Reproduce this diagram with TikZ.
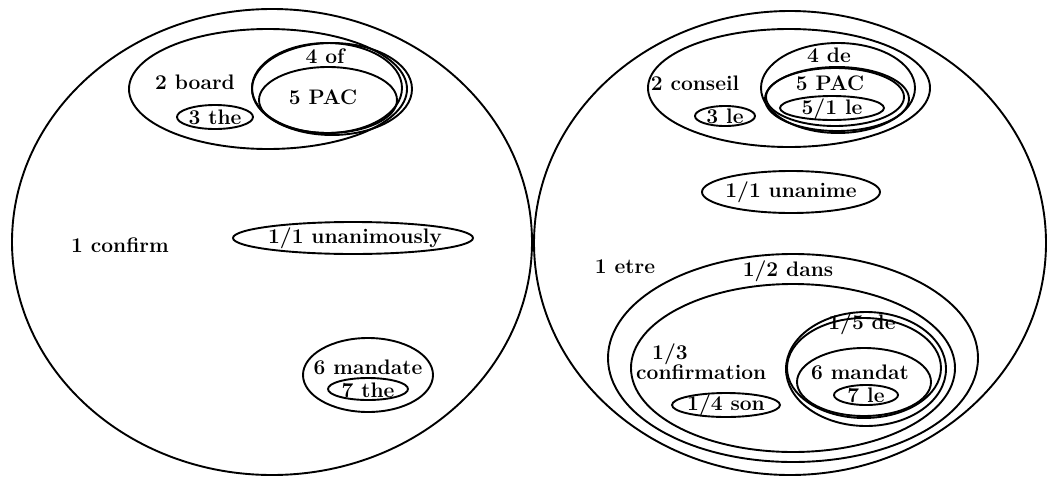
\documentclass[tikz,border=0pt]{standalone}
\begin{document}
\begin{tikzpicture}[x=1pt,y=-1pt,
  every node/.style={font=\fontsize{21}{23}\selectfont\bfseries, inner sep=0pt},
  ring/.style={draw=black, line width=1.9pt}]
\useasboundingbox (0,0) rectangle (1053,477);
\fill[white] (0,0) rectangle (1053,477);
% ---------- left structure ----------
\draw[ring] (272,242) ellipse [x radius=260pt, y radius=233pt];
\draw[ring] (268,89) ellipse [x radius=139pt, y radius=60pt];
\draw[ring] (332,89) ellipse [x radius=80pt, y radius=46pt];
\draw[ring] (327,88) ellipse [x radius=75pt, y radius=45pt];
\draw[ring] (328,100) ellipse [x radius=69pt, y radius=33pt];
\draw[ring] (215,117) ellipse [x radius=38pt, y radius=12pt];
\draw[ring] (353,238) ellipse [x radius=120pt, y radius=16pt];
\draw[ring] (368,375) ellipse [x radius=65pt, y radius=37pt];
\draw[ring] (368,389) ellipse [x radius=40pt, y radius=11pt];
\node (confirm) at (120,245) {1 confirm};
\node (board) at (195,82) {2 board};
\node (the3) at (215,117) {3 the};
\node (of4) at (325,56) {4 of};
\node (pac5) at (323,97) {5 PAC};
\node (unan) at (355,238) {1/1 unanimously};
\node (mandate) at (368,367) {6 mandate};
\node (the7) at (368,390) {7 the};
% ---------- right structure ----------
\draw[ring] (790,243) ellipse [x radius=256pt, y radius=232pt];
\draw[ring] (789,88) ellipse [x radius=141pt, y radius=59pt];
\draw[ring] (838,88) ellipse [x radius=77pt, y radius=45pt];
\draw[ring] (837,99) ellipse [x radius=72pt, y radius=32pt];
\draw[ring] (835,97) ellipse [x radius=69pt, y radius=29pt];
\draw[ring] (832,108) ellipse [x radius=52pt, y radius=12pt];
\draw[ring] (725,116) ellipse [x radius=30pt, y radius=10pt];
\draw[ring] (791,192) ellipse [x radius=89pt, y radius=21pt];
\draw[ring] (793,358) ellipse [x radius=185pt, y radius=104pt];
\draw[ring] (793,368) ellipse [x radius=162pt, y radius=84pt];
\draw[ring] (866,369) ellipse [x radius=80pt, y radius=57pt];
\draw[ring] (864,368) ellipse [x radius=77pt, y radius=50pt];
\draw[ring] (864,382) ellipse [x radius=67pt, y radius=34pt];
\draw[ring] (866,395) ellipse [x radius=32pt, y radius=10pt];
\draw[ring] (726,405) ellipse [x radius=54pt, y radius=12pt];
\node (etre) at (625,267) {1 etre};
\node (conseil) at (695,83) {2 conseil};
\node (le3) at (725,116) {3 le};
\node (de4) at (829,55) {4 de};
\node (pacr) at (830,83) {5 PAC};
\node (le51) at (832,109) {5/1 le};
\node (unanime) at (791,192) {1/1 unanime};
\node (dans) at (788,271) {1/2 dans};
\node[anchor=north west, align=left] (confirmation) at (636,344) {\hspace{16pt}1/3\\[-3pt]confirmation};
\node (de15) at (862,324) {1/5 de};
\node (mandat) at (860,372) {6 mandat};
\node (le7) at (866,395) {7 le};
\node (son) at (726,405) {1/4 son};
\end{tikzpicture}
\end{document}
